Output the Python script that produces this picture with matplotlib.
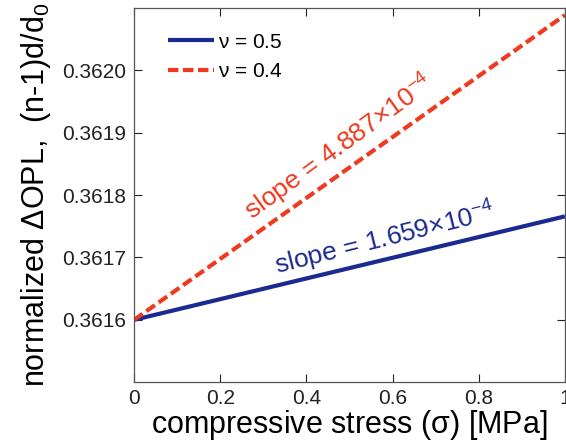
import matplotlib
matplotlib.use("Agg")
import matplotlib.pyplot as plt

plt.rcParams['font.family'] = ['Liberation Sans', 'DejaVu Sans']
plt.rcParams['mathtext.fontset'] = 'custom'
plt.rcParams['mathtext.rm'] = 'Liberation Sans'
plt.rcParams['mathtext.it'] = 'Liberation Sans'

# data
stress = [0.0, 1.0]
opl_nu05 = [0.36160, 0.3617659]
opl_nu04 = [0.36160, 0.3620887]
yticks = [0.3616, 0.3617, 0.3618, 0.3619, 0.3620]
xticks = [0, 0.2, 0.4, 0.6, 0.8, 1]

blue = '#1b2a8e'
red = '#f0391f'

fig = plt.figure(figsize=(5.66, 4.47), dpi=100)
ax = fig.add_axes([0.237, 0.145, 0.761, 0.837])

ax.plot(stress, opl_nu05, color=blue, lw=3, label=r'$\nu$ = 0.5', solid_capstyle='butt')
ax.plot(stress, opl_nu04, color=red, lw=3, ls='--', dashes=(2.5, 1.1), label=r'$\nu$ = 0.4')

ax.set_xlim(0, 1)
ax.set_ylim(0.3615, 0.36210)
ax.set_xticks(xticks)
ax.set_xticklabels(['0', '0.2', '0.4', '0.6', '0.8', '1'])
ax.set_yticks(yticks)
ax.set_yticklabels(['%.4f' % v for v in yticks])
ax.tick_params(direction='in', top=True, right=True, length=6, width=0.8,
               labelsize=15, colors='#222222')
ax.tick_params(axis='x', pad=5)
ax.tick_params(axis='y', pad=6)
for s in ax.spines.values():
    s.set_color('#555555')
    s.set_linewidth(0.9)

ax.set_xlabel(r'compressive stress ($\sigma$) [MPa]', fontsize=22, labelpad=0)
ax.set_ylabel(r'normalized $\Delta$OPL,  (n-1)d/d$_0$', fontsize=22, labelpad=6)

ax.text(0.475, 0.361877, r'slope = 4.887$\times$10$^{-4}$', color=red, fontsize=19,
        rotation=36, rotation_mode='anchor', ha='center', va='center')
ax.text(0.582, 0.36173, r'slope = 1.659$\times$10$^{-4}$', color=blue, fontsize=19,
        rotation=14, rotation_mode='anchor', ha='center', va='center')

ax.legend(loc='upper left', frameon=False, fontsize=15, handlelength=2.2,
          handletextpad=0.2, labelspacing=0.5, borderaxespad=0.6,
          bbox_to_anchor=(0.03, 0.99))

fig.savefig('out.png', dpi=100)
